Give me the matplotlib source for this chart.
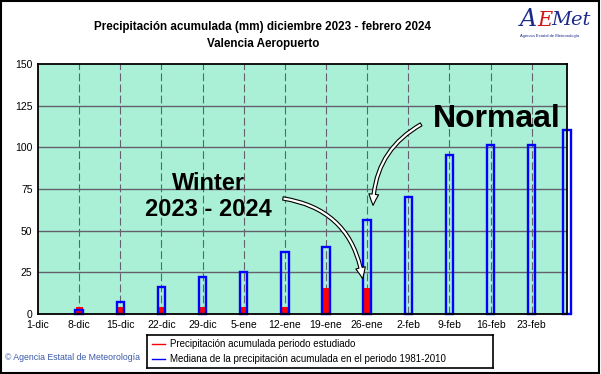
import matplotlib.pyplot as plt
import matplotlib.patches as patches

plt.rcParams['font.family'] = ['Liberation Sans', 'DejaVu Sans']

# weekly dates, counted in days from 1 december
tick_days = [0, 7, 14, 21, 28, 35, 42, 49, 56, 63, 70, 77, 84]
tick_labels = ['1-dic', '8-dic', '15-dic', '22-dic', '29-dic', '5-ene', '12-ene',
               '19-ene', '26-ene', '2-feb', '9-feb', '16-feb', '23-feb']

# median accumulated precipitation 1981-2010 (mm)
median_days = [7, 14, 21, 28, 35, 42, 49, 56, 63, 70, 77, 84, 90]
median_values = [2.5, 7.5, 16.5, 22.5, 25, 37.5, 40, 56.5, 70.5, 95.5, 101.5, 101.5, 110.5]

# accumulated precipitation of the studied period (mm)
obs_days = [7, 14, 21, 28, 35, 42, 49, 56]
obs_values = [4.2, 4.2, 4.2, 4.2, 4.2, 4.5, 15.7, 15.7]

BG = '#a9f0d6'
GRID = '#65606e'

fig = plt.figure(figsize=(6.01, 3.74), dpi=100)
ax = fig.add_axes([38 / 601, 1 - 314 / 374, 529 / 601, 250 / 374])
ax.set_facecolor(BG)

ax.set_xlim(0, 90)
ax.set_ylim(0, 150)
ax.set_yticks([0, 25, 50, 75, 100, 125, 150])
ax.set_xticks(tick_days)
ax.set_xticklabels(tick_labels)
ax.tick_params(length=0, labelsize=7.5, pad=4)

# grid: solid horizontal, dashed vertical
for y in [25, 50, 75, 100, 125]:
    ax.axhline(y, color=GRID, lw=1, zorder=1)
for d in tick_days[1:]:
    ax.axvline(d, color=GRID, lw=0.8, dashes=(7, 3), zorder=1)

for s in ax.spines.values():
    s.set_linewidth(1.3)
    s.set_color('black')
    s.set_zorder(5)

ax.bar(obs_days, obs_values, width=1.2, color='red', lw=0, zorder=2)
ax.bar(median_days, median_values, width=1.25, facecolor='none', edgecolor='blue',
       lw=1.7, zorder=3, clip_on=False)

# annotations
ax.text(29, 70.5, 'Winter\n2023 - 2024', ha='center', va='center', fontsize=17,
        fontweight='bold', linespacing=1.2, zorder=6)
ax.text(78, 117, 'Normaal', ha='center', va='center', fontsize=23,
        fontweight='bold', zorder=6)

arrow_style = 'simple,head_width=7,head_length=8,tail_width=2.4'
ax.add_patch(patches.FancyArrowPatch((41.2, 69.6), (55.3, 19.5), arrowstyle=arrow_style,
             connectionstyle='arc3,rad=-0.38', facecolor='white', edgecolor='black',
             lw=0.8, zorder=6))
ax.add_patch(patches.FancyArrowPatch((65.6, 114.6), (57.0, 63.5), arrowstyle=arrow_style,
             connectionstyle='arc3,rad=0.3', facecolor='white', edgecolor='black',
             lw=0.8, zorder=6))

# titles
fig.text(263 / 601, 1 - 27 / 374, 'Precipitación acumulada (mm) diciembre 2023 - febrero 2024',
         ha='center', va='center', fontsize=8.4, fontweight='bold')
fig.text(263 / 601, 1 - 44 / 374, 'Valencia Aeropuerto', ha='center', va='center',
         fontsize=8.4, fontweight='bold')

# logo
fig.text(520 / 601, 1 - 20 / 374, 'A', color='#1a2a8a', fontsize=17, fontstyle='italic',
         ha='left', va='center', family='DejaVu Serif')
fig.text(537 / 601, 1 - 21 / 374, 'E', color='#d01818', fontsize=15, fontstyle='italic',
         ha='left', va='center', family='DejaVu Serif')
fig.text(551 / 601, 1 - 20 / 374, 'Met', color='#1a2a8a', fontsize=14, fontstyle='italic',
         ha='left', va='center', family='DejaVu Serif')
fig.text(550 / 601, 1 - 36 / 374, 'Agencia Estatal de Meteorología', color='#1a2a8a',
         fontsize=3, ha='center', va='center')

# legend box
leg = fig.add_axes([147 / 601, 1 - 368 / 374, 346 / 601, 33 / 374])
leg.set_xlim(0, 346)
leg.set_ylim(33, 0)
leg.set_xticks([])
leg.set_yticks([])
for s in leg.spines.values():
    s.set_linewidth(1.2)
leg.plot([5, 18], [9, 9], color='red', lw=1)
leg.plot([5, 18], [24, 24], color='blue', lw=1)
leg.text(23, 9, 'Precipitación acumulada periodo estudiado', va='center', fontsize=7)
leg.text(23, 24, 'Mediana de la precipitación acumulada en el periodo 1981-2010',
         va='center', fontsize=7)

fig.text(5 / 601, 1 - 357 / 374, '© Agencia Estatal de Meteorología', color='#3a5aa8',
         fontsize=6.3, va='center')

# outer frame
fig.patches.append(patches.Rectangle((0.002, 0.003), 0.995, 0.993, transform=fig.transFigure,
                                     fill=False, edgecolor='black', lw=1.5))

fig.savefig('out.png', dpi=100)
